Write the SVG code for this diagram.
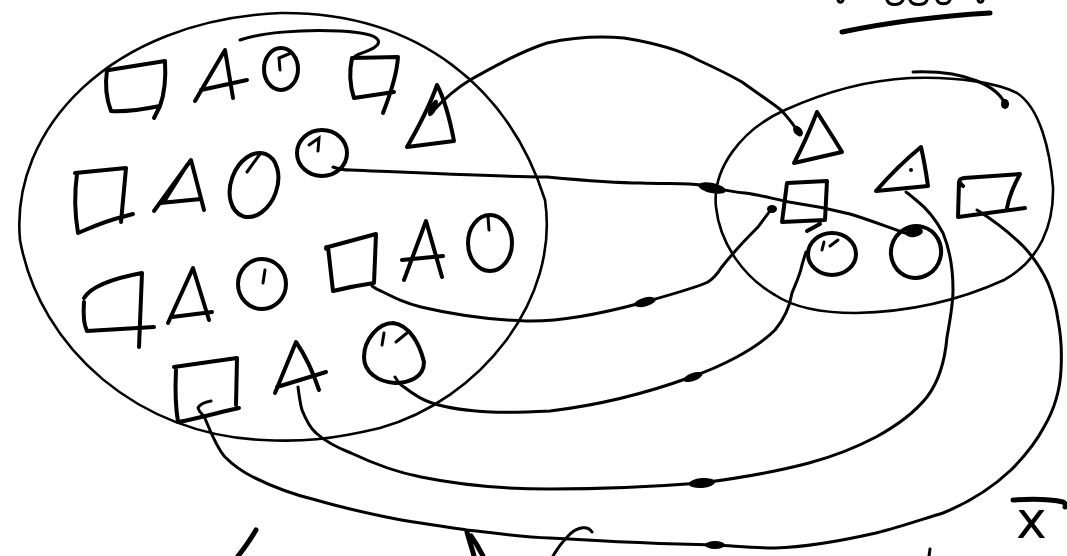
<svg xmlns="http://www.w3.org/2000/svg" width="1067" height="556" viewBox="0 0 1067 556">
<style>
.set{fill:none;stroke:#000;stroke-width:2.6;stroke-linecap:round;stroke-linejoin:round}
.sh{fill:none;stroke:#000;stroke-width:4;stroke-linecap:round;stroke-linejoin:round}
.tk{fill:none;stroke:#000;stroke-width:3;stroke-linecap:round}
.cn{fill:none;stroke:#000;stroke-width:3;stroke-linecap:round;stroke-linejoin:round}
.blob{fill:#000}
.mk{fill:none;stroke:#000;stroke-width:5;stroke-linecap:round;stroke-linejoin:round}
.lbl{font-family:"DejaVu Sans",sans-serif;font-size:52px;fill:#000}
</style>
<rect width="1067" height="556" fill="#fff"/>

<g id="set-left">
<path class="set" d="M281,13 C420,12 510,90 545,200 C560,300 480,400 380,428 C330,440 300,442 263,440 C140,435 40,350 20,240 C10,130 110,20 281,13 Z"/>
</g>
<g id="set-right">
<path class="set" d="M716,207 C712,170 740,130 785,110 C825,92 870,80 910,78 C960,76 1000,84 1017,93 C1040,108 1050,150 1053,187 C1054,225 1040,260 1004,280 C960,300 910,312 856,313 C815,313 790,305 775,295 C745,278 720,245 716,207 Z"/>
</g>

<g id="l-square1"><path class="sh" d="M109,70 L165,61 C166,78 164,95 160,106 L154,118 M160,106 C145,109 125,112 111,111 C106,98 105,84 107,70"/></g>
<g id="l-tri1"><path class="sh" d="M195,101 L225,50 L233,98 M201,90 L247,80"/></g>
<g id="l-circle1"><ellipse class="sh" cx="281" cy="69" rx="17" ry="21"/><path class="tk" d="M291,53 L279,58 L280,70"/></g>
<g id="l-square2"><path class="sh" d="M352,58 L398,57 C397,74 390,95 383,113 M354,98 L394,92 M352,58 C349,72 350,86 354,98"/></g>
<g id="l-tri2"><path class="sh" d="M437,85 C430,105 418,128 407,147 L454,141 C450,120 445,100 437,85"/></g>

<g id="l-square3"><path class="sh" d="M75,173 L126,168 L121,222 M77,174 C74,195 75,215 78,233 C90,228 105,221 122,217 L133,214"/></g>
<g id="l-tri3"><path class="sh" d="M154,211 L191,160 L204,210 M160,203 L201,199 M187,165 L165,200"/></g>
<g id="l-circle3"><ellipse class="sh" cx="254" cy="185" rx="23" ry="33" transform="rotate(20 254 185)"/><path class="tk" d="M260,154 L247,172"/></g>
<g id="l-circle4"><ellipse class="sh" cx="322" cy="153" rx="25" ry="23"/><path class="tk" d="M309,145 L319,138 L318,151"/></g>

<g id="l-square4"><path class="sh" d="M84,298 C92,285 115,278 142,273 L139,347 M84,302 C83,315 84,325 87,331 L154,327"/></g>
<g id="l-tri4"><path class="sh" d="M168,323 L193,268 L209,320 M172,317 L212,312"/></g>
<g id="l-circle4b"><ellipse class="sh" cx="262" cy="284" rx="24" ry="25"/><path class="tk" d="M265,270 L263,283"/></g>
<g id="l-square5"><path class="sh" d="M328,247 L376,234 L374,283 C360,285 345,288 333,291 L328,247"/><circle class="blob" cx="327" cy="248" r="3"/></g>
<g id="l-tri5"><path class="sh" d="M404,280 L426,221 L442,277 M402,260 L443,256"/></g>
<g id="l-circle5"><ellipse class="sh" cx="490" cy="243" rx="22" ry="28"/><path class="tk" d="M488,217 L489,230"/></g>

<g id="l-square6"><path class="sh" d="M174,367 C195,364 215,361 237,358 L236,405 M176,370 C175,390 176,410 178,422 C200,418 220,412 239,408"/></g>
<g id="l-tri6"><path class="sh" d="M275,393 L296,342 C305,355 313,372 319,390 M277,387 L326,372"/></g>
<g id="l-circle6"><path class="sh" d="M393,323 C410,325 420,345 424,362 C424,378 408,383 395,383 C378,382 364,372 364,357 C364,340 378,323 393,323 Z"/><path class="tk" d="M384,333 L382,345 M396,342 L407,333"/></g>

<g id="r-tri1"><path class="sh" d="M817,112 C810,130 802,148 794,163 L842,152 C835,140 825,125 817,112"/></g>
<g id="r-square1"><path class="sh" d="M787,183 L827,181 L825,220 L782,222 Z M820,224 L807,231"/></g>
<g id="r-tri2"><path class="sh" d="M921,147 C905,160 890,175 876,191 L928,186 C926,172 924,160 921,147"/><circle class="blob" cx="911" cy="170" r="2"/></g>
<g id="r-square2"><path class="sh" d="M963,186 C958,182 958,179 964,178 L1020,174 C1014,185 1009,197 1007,208 M959,182 L958,217 L1025,208"/></g>
<g id="r-circle1"><ellipse class="sh" cx="832" cy="254" rx="24" ry="21"/><path class="tk" d="M824,242 L822,250 M830,246 L838,240"/></g>
<g id="r-circle2"><ellipse class="sh" cx="916" cy="252" rx="25" ry="26" transform="rotate(15 916 252)"/></g>

<g id="connectors">
<path class="cn" d="M240,40 C260,33 300,29 340,31 C360,32 375,35 378,40 C381,46 370,50 362,53 C356,55 353,58 352,60"/>
<path class="cn" d="M432,112 C445,98 460,86 470,80 C495,66 520,52 547,43 C575,37 600,36 624,38 C655,43 680,50 698,60 C720,70 735,78 742,82 C760,95 775,105 782,111 C790,120 796,128 800,135"/>
<path class="cn" d="M333,167 C340,170 345,170 351,170 C420,173 480,176 547,177 C590,181 620,183 641,183 C665,184 690,183 700,185 C715,188 730,192 745,193 C760,195 770,198 789,202 C810,205 830,209 850,214 C870,220 890,228 905,233"/>
<path class="cn" d="M372,286 C376,289 378,290 381,291 C395,298 405,303 421,307 C455,315 495,320 526,321 C560,322 600,314 641,303 C670,295 695,288 708,282 C714,278 718,273 721,268 C735,250 750,235 758,227 C763,220 768,214 772,208"/>
<path class="cn" d="M395,377 C398,382 400,385 404,387 C413,394 422,400 432,403 C450,409 470,411 491,412 C510,413 530,412 550,411 C600,405 650,392 691,377 C720,367 755,350 775,330 C785,318 790,305 792,293 C796,283 800,275 802,265 C804,258 805,255 806,252"/>
<path class="cn" d="M298,387 C299,395 300,403 302,410 C306,420 310,428 316,433 C326,442 338,448 351,453 C370,462 395,472 421,477 C460,485 505,489 550,489 C600,489 650,487 701,483 C740,478 775,472 809,463 C835,456 857,447 876,437 C898,425 915,412 927,397 C940,380 945,360 947,337 C950,320 953,305 953,290 C953,270 950,250 943,233 C935,218 925,207 916,200 C912,197 909,194 906,192"/>
<path class="cn" d="M211,401 C205,402 200,404 198,408 C199,412 202,414 204,416 C210,430 216,447 225,457 C235,467 245,473 253,477 C275,488 295,495 316,500 C340,507 362,512 386,517 C410,522 440,526 467,530 C495,533 520,537 550,538 C600,541 660,544 715,545 C735,546 755,548 775,548 C810,547 845,540 876,533 C900,527 920,520 943,513 C970,502 992,488 1011,470 C1025,456 1036,442 1044,427 C1054,410 1060,390 1061,370 C1062,352 1061,335 1058,320 C1056,305 1052,293 1048,283 C1042,270 1034,258 1024,247 C1010,233 993,220 977,210"/>
<path class="cn" d="M913,72 C940,71 960,74 977,81 C992,87 1002,95 1006,106"/>
<ellipse class="blob" cx="433" cy="108" rx="3.5" ry="9" transform="rotate(25 433 108)"/>
<ellipse class="blob" cx="798" cy="131" rx="6" ry="4" transform="rotate(50 798 131)"/>
<ellipse class="blob" cx="712" cy="188" rx="14" ry="5" transform="rotate(12 712 188)"/>
<ellipse class="blob" cx="914" cy="232" rx="9" ry="5" transform="rotate(-10 914 232)"/>
<ellipse class="blob" cx="645" cy="302" rx="11" ry="4.5" transform="rotate(-15 645 302)"/>
<ellipse class="blob" cx="772" cy="209" rx="5" ry="4"/>
<ellipse class="blob" cx="693" cy="377" rx="10" ry="4" transform="rotate(-20 693 377)"/>
<ellipse class="blob" cx="702" cy="483" rx="13" ry="5" transform="rotate(-5 702 483)"/>
<ellipse class="blob" cx="715" cy="545" rx="10" ry="4"/>
<ellipse class="blob" cx="1005" cy="104" rx="4" ry="5"/>
</g>

<g id="marks">
<path class="mk" d="M842,32 C890,22 940,16 990,13"/>
<path class="tk" d="M838,0 C839,3 842,3 843,0 M887,0 C889,6 900,6 903,0 M910,0 C912,6 925,6 927,0 M937,0 C939,5 948,5 950,0 M978,0 C979,3 982,3 983,0"/>
<path class="mk" d="M256,530 C250,540 243,550 238,556"/>
<path class="mk" d="M467,532 C469,540 472,548 474,556 M471,536 C476,543 480,550 483,556"/>
<path class="tk" d="M592,532 C588,525 578,527 570,534 C563,541 557,549 553,556"/>
<path class="tk" d="M930,549 L929,556"/>
<path class="mk" d="M1013,500 C1030,499 1050,499 1063,502 C1065,503 1066,505 1065,507"/>
</g>
<text class="lbl" x="1016" y="538">x</text>
</svg>
